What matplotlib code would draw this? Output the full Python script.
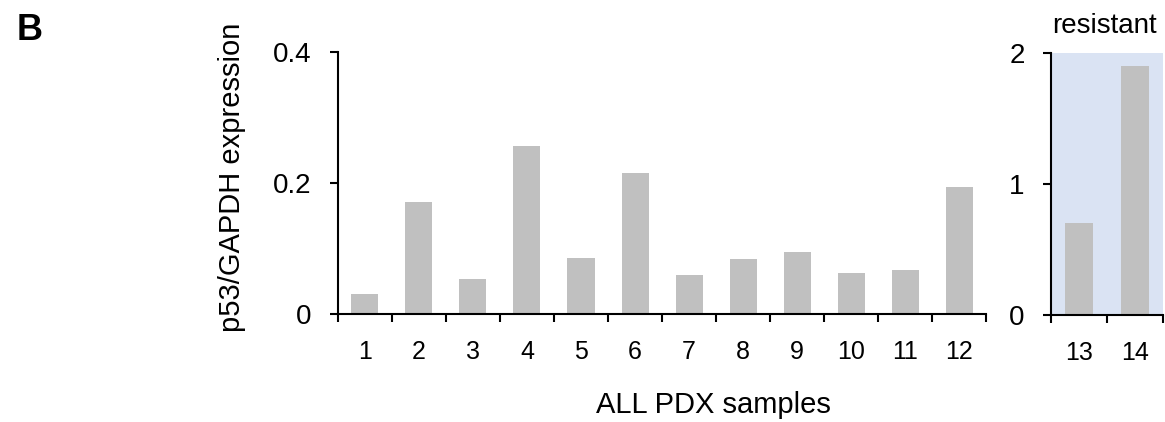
import matplotlib
matplotlib.use("Agg")
import matplotlib.pyplot as plt
import numpy as np

plt.rcParams['font.family'] = ['Liberation Sans', 'DejaVu Sans']

# p53/GAPDH expression per PDX sample
samples = [1, 2, 3, 4, 5, 6, 7, 8, 9, 10, 11, 12]
expression = [0.030, 0.171, 0.053, 0.257, 0.086, 0.216, 0.060, 0.084, 0.094, 0.063, 0.067, 0.194]

resistant_samples = [13, 14]
resistant_expression = [0.70, 1.90]

bar_color = "#c0c0c0"
shade_color = "#dae3f3"

fig = plt.figure(figsize=(11.65, 4.22), dpi=100, facecolor="white")
ax = fig.add_axes([0.2901, 0.2559, 0.5563, 0.6209])
ax2 = fig.add_axes([0.9021, 0.2543, 0.0962, 0.6194])


def style_axis(a, cats, ylim, yticks, ylabels):
    a.set_xlim(cats[0] - 0.5, cats[-1] + 0.5)
    a.set_ylim(*ylim)
    for side in ("top", "right"):
        a.spines[side].set_visible(False)
    for side in ("left", "bottom"):
        a.spines[side].set_linewidth(1.5)
    # category labels at bar centres, tick marks between categories
    a.set_xticks(cats)
    a.set_xticklabels([str(c) for c in cats])
    a.set_xticks(np.arange(cats[0] - 0.5, cats[-1] + 1.0, 1.0), minor=True)
    a.tick_params(axis="x", which="major", length=0, pad=19, labelsize=18)
    a.tick_params(axis="x", which="minor", length=6, width=1.5, direction="out")
    a.set_yticks(yticks)
    a.set_yticklabels(ylabels)
    a.tick_params(axis="y", which="major", length=6, width=1.5, direction="out",
                  pad=13, labelsize=20)


ax.bar(samples, expression, width=0.5, color=bar_color, zorder=2)
style_axis(ax, samples, (0, 0.4), [0, 0.2, 0.4], ["0", "0.2", "0.4"])

ax2.set_facecolor(shade_color)
ax2.bar(resistant_samples, resistant_expression, width=0.5, color=bar_color, zorder=2)
style_axis(ax2, resistant_samples, (0, 2), [0, 1, 2], ["0", "1", "2"])

fig.text(232 / 1165, 1 - 177 / 422, "p53/GAPDH expression", rotation=90,
         ha="center", va="center", fontsize=21)
fig.text(713 / 1165, 1 - 413 / 422, "ALL PDX samples", ha="center", va="baseline", fontsize=21)
fig.text(1104 / 1165, 1 - 33 / 422, "resistant", ha="center", va="baseline", fontsize=20)
fig.text(17 / 1165, 1 - 30 / 422, "B", ha="left", va="center", fontsize=26, fontweight="bold")

fig.savefig("out.png", dpi=100, facecolor="white")
